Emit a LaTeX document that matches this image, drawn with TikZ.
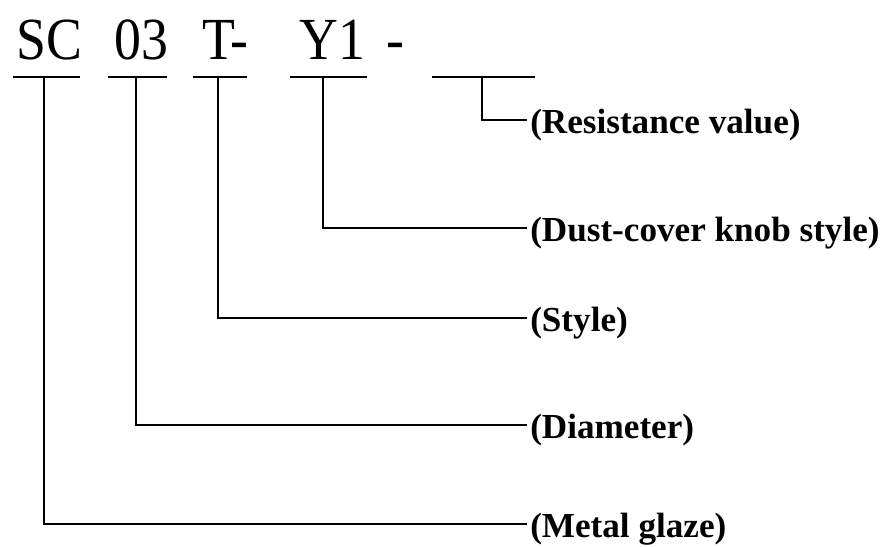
\documentclass[tikz,border=0pt]{standalone}
\usepackage{graphicx}
\usepackage{fontspec}
\setmainfont{Liberation Serif}
\usepackage{tikz}

\begin{document}
\begin{tikzpicture}[x=0.02cm,y=-0.02cm,line width=1.7pt,
  code/.style={anchor=base west,inner sep=0pt,font=\fontsize{34}{40}\selectfont},
  lab/.style={anchor=west,inner xsep=1pt,text height=20pt,text depth=5pt,font=\fontsize{20}{24}\selectfont\bfseries}]
  \useasboundingbox (0,0) rectangle (894,547);
  % model code
  \node[code] (sc) at (15,60) {\scalebox{0.9}[1]{SC}};
  \node[code] (dia) at (113,60) {\scalebox{0.9}[1]{03}};
  \node[code] (sty) at (201,60) {\scalebox{0.9}[1]{T-}};
  \node[code] (knob) at (298,60) {\scalebox{0.9}[1]{Y1}};
  \node[code] (dash) at (385,60) {\scalebox{0.9}[1]{-}};
  % underlines
  \draw (13,77)--(80,77);
  \draw (108,77)--(167,77);
  \draw (193,77)--(247,77);
  \draw (290,77)--(367,77);
  \draw (432,77)--(535,77);
  \coordinate (u1) at (44,77);
  \coordinate (u2) at (136,77);
  \coordinate (u3) at (218,77);
  \coordinate (u4) at (323,77);
  \coordinate (u5) at (482,77);
  % meanings
  \node[lab] (lres) at (527,120) {(Resistance value)};
  \node[lab] (lknob) at (527,228) {(Dust-cover knob style)};
  \node[lab] (lsty) at (527,318) {(Style)};
  \node[lab] (ldia) at (527,425) {(Diameter)};
  \node[lab] (lmetal) at (527,524) {(Metal glaze)};
  \draw (u5) |- (lres.west);
  \draw (u4) |- (lknob.west);
  \draw (u3) |- (lsty.west);
  \draw (u2) |- (ldia.west);
  \draw (u1) |- (lmetal.west);
\end{tikzpicture}
\end{document}
